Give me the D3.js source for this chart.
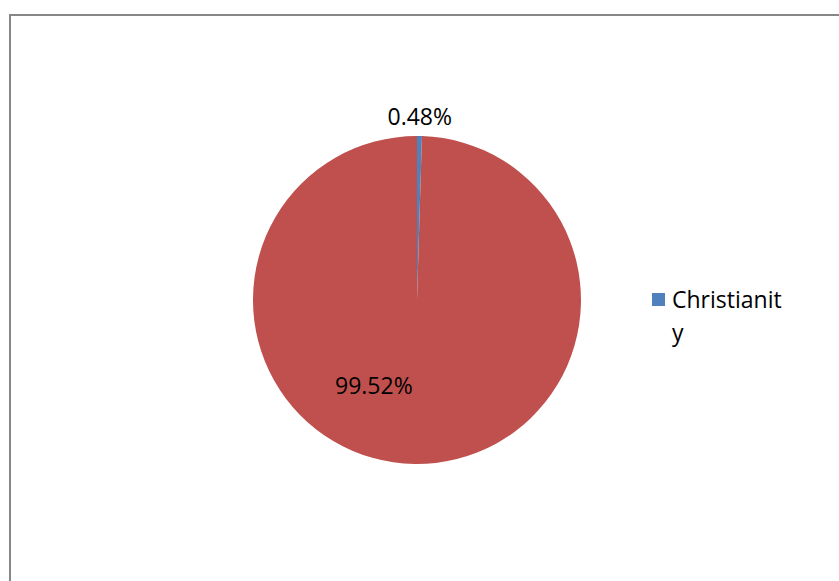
<!DOCTYPE html>
<html>
<head>
<meta charset="utf-8">
<script src="https://cdn.jsdelivr.net/npm/d3@7"></script>
<style>
  html, body { margin: 0; padding: 0; background: #fff; }
  svg { display: block; }
  text { font-family: "Open Sans", "Liberation Sans", sans-serif; fill: #000; }
</style>
</head>
<body>
<svg id="chart" width="839" height="581"></svg>
<script>
// Religion shares (percent)
const categories = ["Christianity", ""];
const shares = [0.48, 99.52];
const sliceColors = ["#4F81BD", "#C0504D"];
const valueLabels = ["0.48%", "99.52%"];

const width = 839, height = 581;
const svg = d3.select("#chart");

// Chart area frame (runs off the right and bottom edges)
svg.append("rect")
  .attr("x", 10).attr("y", 15)
  .attr("width", width + 20).attr("height", height + 20)
  .attr("fill", "#fff")
  .attr("stroke", "#878787")
  .attr("stroke-width", 2);

const cx = 417, cy = 300, r = 164;

const color = d3.scaleOrdinal().domain(d3.range(categories.length)).range(sliceColors);

const pie = d3.pie().value(d => d.v).sort(null);
const arcs = pie(shares.map((v, i) => ({ v, i })));
const arc = d3.arc().innerRadius(0).outerRadius(r);

const g = svg.append("g").attr("transform", `translate(${cx},${cy})`);

g.selectAll("path.slice")
  .data(arcs)
  .join("path")
  .attr("class", "slice")
  .attr("d", arc)
  .attr("fill", d => color(d.data.i));

// Data labels: thin slice labelled just outside the rim,
// the large slice labelled inside, toward the lower left
function labelPos(d) {
  if (d.endAngle - d.startAngle < 0.2) {
    return d3.pointRadial((d.startAngle + d.endAngle) / 2, r + 20);
  }
  return d3.pointRadial(Math.PI * 1.15, r * 0.58);
}

g.selectAll("text.val")
  .data(arcs)
  .join("text")
  .attr("class", "val")
  .attr("text-anchor", "middle")
  .attr("dominant-baseline", "central")
  .attr("font-size", 23)
  .attr("transform", d => {
    const p = labelPos(d);
    return `translate(${p[0]},${p[1]})`;
  })
  .text((d, i) => valueLabels[i]);

// Legend (wrapped to the narrow legend column)
const legendItems = categories.map((c, i) => ({ c, i })).filter(d => d.c);
const legend = svg.append("g").attr("transform", "translate(652,293)");
legendItems.forEach((d, k) => {
  const row = legend.append("g").attr("transform", `translate(0,${k * 66})`);
  row.append("rect").attr("x", 0).attr("y", 0).attr("width", 13).attr("height", 13)
    .attr("fill", color(d.i));
  const t = row.append("text").attr("x", 20).attr("y", 15).attr("font-size", 23);
  t.append("tspan").attr("x", 20).attr("dy", 0).text(d.c.slice(0, 11));
  t.append("tspan").attr("x", 20).attr("dy", 33).text(d.c.slice(11));
});
</script>
</body>
</html>
